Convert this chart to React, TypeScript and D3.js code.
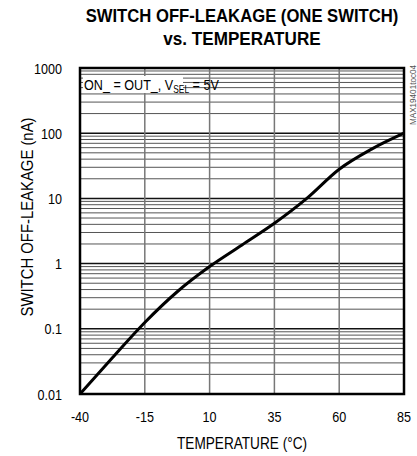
import * as d3 from "d3";

const temps = [-40, -27.5, -15, -2.5, 10, 22.5, 35, 47.5, 60, 72.5, 85];
const leakage = [0.01, 0.036, 0.125, 0.37, 0.9, 1.93, 4.15, 10, 28, 57, 100];

const xTicks = [-40, -15, 10, 35, 60, 85];
const yTicks = [0.01, 0.1, 1, 10, 100, 1000];
const yTickLabels = ["0.01", "0.1", "1", "10", "100", "1000"];

const W = 417;
const H = 456;
const left = 80;
const right = 404;
const top = 68;
const bottom = 394;

const FONT = "'Liberation Sans', Arial, sans-serif";
const SX = 0.84; // narrow the font a bit, the original uses a condensed face

// text drawn with a horizontal squeeze
function NText({ x, y, anchor = "start", size = 15, rotate = 0, sx = SX, weight = "normal", fill = "#000", children }: any) {
  return (
    <text
      transform={`translate(${x},${y}) rotate(${rotate}) scale(${sx},1)`}
      textAnchor={anchor}
      fontSize={size}
      fontWeight={weight}
      fill={fill}
    >
      {children}
    </text>
  );
}

export default function App() {
  const x = d3.scaleLinear().domain([-40, 85]).range([left, right]);
  const y = d3.scaleLog().domain([0.01, 1000]).range([bottom, top]);

  // minor grid values 2..9 per decade
  const minors: number[] = [];
  for (let d = 0; d < yTicks.length - 1; d++) {
    for (let m = 2; m <= 9; m++) minors.push(yTicks[d] * m);
  }

  const line = d3
    .line<number>()
    .x((_, i) => x(temps[i]))
    .y((v) => y(v))
    .curve(d3.curveMonotoneX);

  return (
    <svg
      width={W}
      height={H}
      style={{ position: "absolute", left: 0, top: 0, background: "#fff" }}
      fontFamily={FONT}
    >
      {/* title */}
      <NText x={242} y={22} anchor="middle" size={19} weight="bold" sx={0.877}>
        SWITCH OFF-LEAKAGE (ONE SWITCH)
      </NText>
      <NText x={242} y={45} anchor="middle" size={19} weight="bold" sx={0.9}>
        vs. TEMPERATURE
      </NText>

      {/* minor horizontal grid */}
      {minors.map((v, i) => (
        <line key={"m" + i} x1={left} x2={right} y1={y(v)} y2={y(v)} stroke="#555" strokeWidth={1} />
      ))}
      {/* major horizontal grid */}
      {yTicks.map((v, i) => (
        <line key={"M" + i} x1={left} x2={right} y1={y(v)} y2={y(v)} stroke="#111" strokeWidth={1.5} />
      ))}
      {/* vertical grid */}
      {xTicks.map((t, i) => (
        <line key={"v" + i} x1={x(t)} x2={x(t)} y1={top} y2={bottom} stroke="#777" strokeWidth={1.5} />
      ))}

      {/* condition label */}
      <rect x={83} y={76} width={100} height={17} fill="#fff" />
      <NText x={84} y={90} size={15}>
        ON_ = OUT_, V<tspan fontSize={10} dy={3}>SEL</tspan>
        <tspan dy={-3}> = 5V</tspan>
      </NText>

      {/* curve */}
      <path d={line(leakage) ?? ""} fill="none" stroke="#000" strokeWidth={3} />

      {/* frame */}
      <rect x={left} y={top} width={right - left} height={bottom - top} fill="none" stroke="#000" strokeWidth={2.5} />

      {/* y ticks */}
      {yTicks.map((v, i) => (
        <NText key={"yt" + i} x={62} y={y(v) + 5.5} anchor="end" size={15}>
          {yTickLabels[i]}
        </NText>
      ))}
      {/* x ticks */}
      {xTicks.map((t, i) => (
        <NText key={"xt" + i} x={x(t)} y={422} anchor="middle" size={15}>
          {t}
        </NText>
      ))}

      {/* axis titles */}
      <text transform="translate(33,217) rotate(-90)" textAnchor="middle" fontSize={16}
        textLength={199} lengthAdjust="spacingAndGlyphs">
        SWITCH OFF-LEAKAGE (nA)
      </text>
      <text x={242} y={449} textAnchor="middle" fontSize={16}
        textLength={130} lengthAdjust="spacingAndGlyphs">
        TEMPERATURE (°C)
      </text>

      {/* part number tag */}
      <text transform="translate(416,65) rotate(-90)" textAnchor="end" fontSize={9} fill="#555"
        textLength={60} lengthAdjust="spacingAndGlyphs">
        MAX19401toc04
      </text>
    </svg>
  );
}
